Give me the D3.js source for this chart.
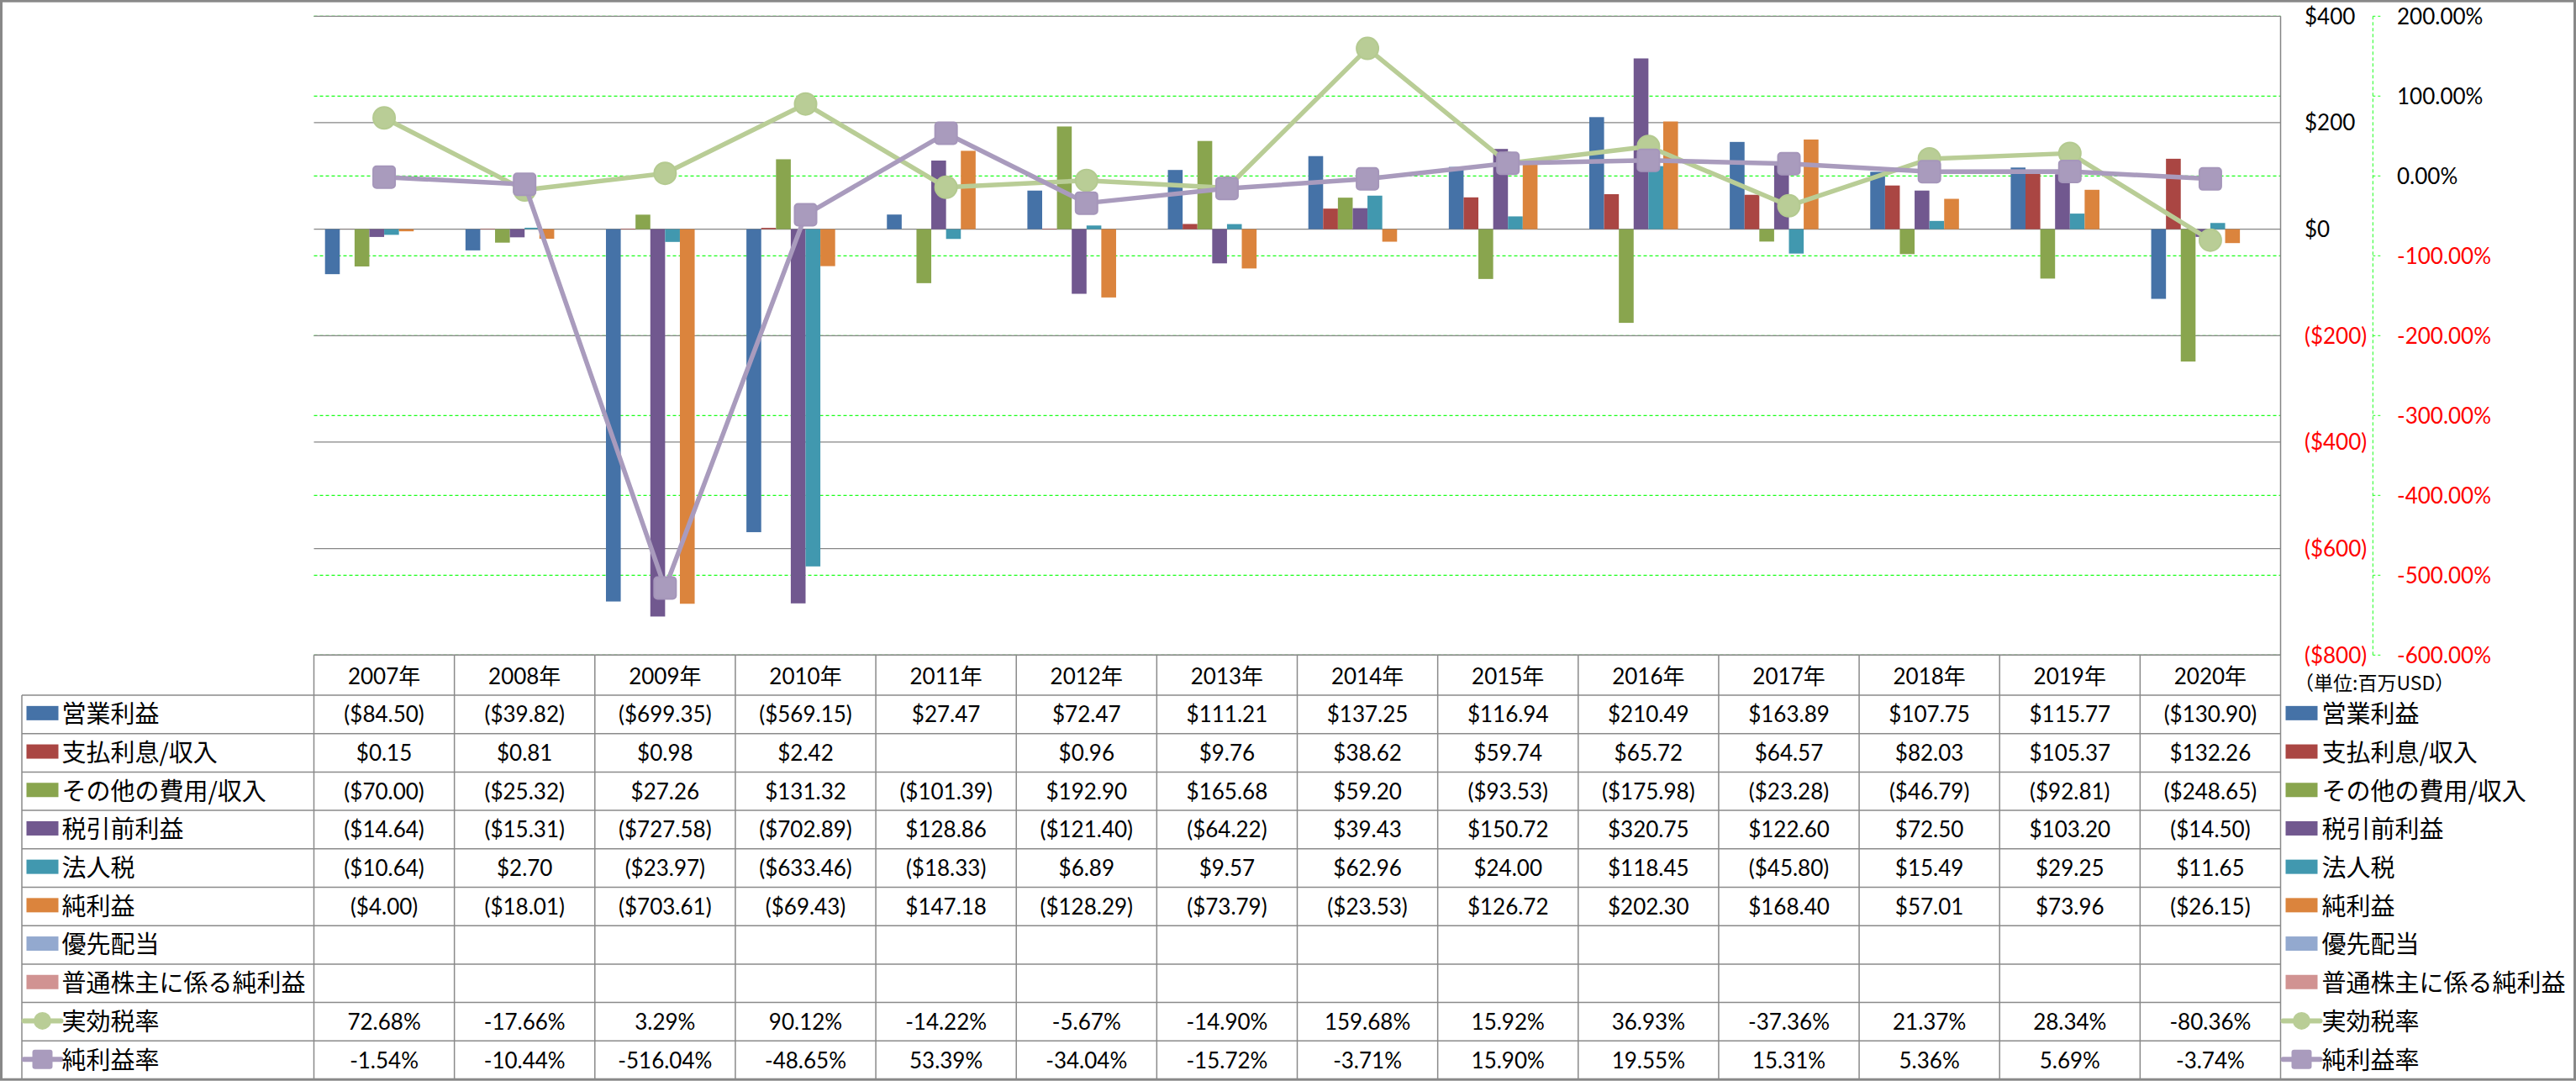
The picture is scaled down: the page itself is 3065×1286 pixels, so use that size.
<!DOCTYPE html>
<html><head><meta charset="utf-8">
<script src="https://cdn.jsdelivr.net/npm/d3@7"></script>
<style>
html,body{margin:0;padding:0;background:#fff;}
svg{display:block;}
</style></head>
<body>
<svg id="chart" width="3065" height="1286"></svg>
<script>
// ---------- data ----------
const years = ["2007年","2008年","2009年","2010年","2011年","2012年","2013年","2014年","2015年","2016年","2017年","2018年","2019年","2020年"];
const barNames = ["営業利益","支払利息/収入","その他の費用/収入","税引前利益","法人税","純利益","優先配当","普通株主に係る純利益"];
const lineNames = ["実効税率","純利益率"];
const opIncome   = [-84.50,-39.82,-699.35,-569.15,27.47,72.47,111.21,137.25,116.94,210.49,163.89,107.75,115.77,-130.90];
const interest   = [0.15,0.81,0.98,2.42,null,0.96,9.76,38.62,59.74,65.72,64.57,82.03,105.37,132.26];
const otherExp   = [-70.00,-25.32,27.26,131.32,-101.39,192.90,165.68,59.20,-93.53,-175.98,-23.28,-46.79,-92.81,-248.65];
const preTax     = [-14.64,-15.31,-727.58,-702.89,128.86,-121.40,-64.22,39.43,150.72,320.75,122.60,72.50,103.20,-14.50];
const corpTax    = [-10.64,2.70,-23.97,-633.46,-18.33,6.89,9.57,62.96,24.00,118.45,-45.80,15.49,29.25,11.65];
const netIncome  = [-4.00,-18.01,-703.61,-69.43,147.18,-128.29,-73.79,-23.53,126.72,202.30,168.40,57.01,73.96,-26.15];
const prefDiv    = [null,null,null,null,null,null,null,null,null,null,null,null,null,null];
const netCommon  = [null,null,null,null,null,null,null,null,null,null,null,null,null,null];
const effTaxRate = [72.68,-17.66,3.29,90.12,-14.22,-5.67,-14.90,159.68,15.92,36.93,-37.36,21.37,28.34,-80.36];
const netMargin  = [-1.54,-10.44,-516.04,-48.65,53.39,-34.04,-15.72,-3.71,15.90,19.55,15.31,5.36,5.69,-3.74];
const usdTicks = [400,200,0,-200,-400,-600,-800];
const pctTicks = [200,100,0,-100,-200,-300,-400,-500,-600];
const unitLabel = "（単位:百万USD）";

const barSeries = [opIncome, interest, otherExp, preTax, corpTax, netIncome, prefDiv, netCommon];
const lineSeries = [effTaxRate, netMargin];
const barColors = ["#4572A7","#AA4643","#89A54E","#71588F","#4198AF","#DB843D","#93A9CF","#D19392"];
const lineColors = ["#B9CD96","#A99BBD"];

// ---------- layout ----------
const svg = d3.select("#chart");
const L = 373.5, R = 2713.5, T = 19.3, B = 779.3;
const tableTop = B, headerBottom = 827, rowH = 45.7;
const labelLeft = 26;
const gridGray = "#868686";
const lime = "#19ff19";
const numFont = "Lato, 'Noto Sans CJK JP', sans-serif";
const jpFont = "'Noto Sans CJK JP', sans-serif";

const x = d3.scaleBand().domain(years).range([L, R]).padding(0);
const xs = d3.scaleBand().domain(barNames).range([0, x.bandwidth()]).paddingInner(0).paddingOuter(0.75);
const yUsd = d3.scaleLinear().domain([-800, 400]).range([B, T]);
const yPct = d3.scaleLinear().domain([-600, 200]).range([B, T]);

const loc = d3.formatLocale({decimal: ".", thousands: ",", grouping: [3], currency: ["$", ""], minus: "-"});
const f2 = loc.format(",.2f");
const fmtUsd = v => v == null ? "" : (v < 0 ? "($" + f2(-v) + ")" : "$" + f2(v));
const fmtPct = v => v == null ? "" : loc.format(".2f")(v) + "%";
const fmtUsdTick = v => v < 0 ? "($" + (-v) + ")" : "$" + v;

// outer border
svg.append("rect").attr("x",1.5).attr("y",1.2).attr("width",3062).attr("height",1283)
  .attr("fill","none").attr("stroke","#888").attr("stroke-width",3);

// green dashed percent gridlines
svg.append("g").selectAll("line").data(pctTicks).join("line")
  .attr("x1", L).attr("x2", R).attr("y1", d => yPct(d)).attr("y2", d => yPct(d))
  .attr("stroke", lime).attr("stroke-width", 1.3).attr("stroke-dasharray", "4,3");

// gray usd gridlines
svg.append("g").selectAll("line").data(usdTicks).join("line")
  .attr("x1", L).attr("x2", R).attr("y1", d => yUsd(d)).attr("y2", d => yUsd(d))
  .attr("stroke", gridGray).attr("stroke-width", 1.3);
// right border of plot
svg.append("line").attr("x1", R).attr("x2", R).attr("y1", T).attr("y2", B)
  .attr("stroke", gridGray).attr("stroke-width", 1.5);

// bars
const barG = svg.append("g");
barSeries.forEach((vals, si) => {
  barG.append("g").selectAll("rect")
    .data(vals.map((v, i) => ({ v, year: years[i] })).filter(d => d.v != null && d.v !== 0))
    .join("rect")
    .attr("x", d => x(d.year) + xs(barNames[si]))
    .attr("width", xs.bandwidth())
    .attr("y", d => yUsd(Math.max(0, d.v)))
    .attr("height", d => Math.abs(yUsd(d.v) - yUsd(0)))
    .attr("fill", barColors[si]);
});

// lines
lineSeries.forEach((vals, li) => {
  const pts = vals.map((v, i) => [x(years[i]) + x.bandwidth() / 2, yPct(v)]);
  const g = svg.append("g");
  g.append("path").attr("d", d3.line()(pts)).attr("fill", "none")
    .attr("stroke", lineColors[li]).attr("stroke-width", 5.5).attr("stroke-linejoin", "round");
  if (li === 0) {
    g.selectAll("circle").data(pts).join("circle")
      .attr("cx", d => d[0]).attr("cy", d => d[1]).attr("r", 13)
      .attr("fill", lineColors[li]).attr("stroke", "#B4CA90").attr("stroke-width", 2);
  } else {
    g.selectAll("rect").data(pts).join("rect")
      .attr("x", d => d[0] - 13).attr("y", d => d[1] - 13).attr("width", 26).attr("height", 26)
      .attr("rx", 4).attr("fill", lineColors[li]).attr("stroke", "#A596BA").attr("stroke-width", 2);
  }
});

// right $ axis labels
svg.append("g").selectAll("text").data(usdTicks).join("text")
  .attr("x", 2742).attr("y", d => yUsd(d)).attr("dy", "0.36em")
  .attr("font-family", numFont).attr("font-size", 26)
  .attr("fill", d => d < 0 ? "#ff0000" : "#000").text(fmtUsdTick);

// right % axis (dashed green line + ticks)
const axX = 2823.3;
svg.append("line").attr("x1", axX).attr("x2", axX).attr("y1", T).attr("y2", B)
  .attr("stroke", lime).attr("stroke-width", 1).attr("stroke-dasharray", "4,3");
svg.append("g").selectAll("line").data(pctTicks).join("line")
  .attr("x1", axX).attr("x2", axX + 9).attr("y1", d => yPct(d)).attr("y2", d => yPct(d))
  .attr("stroke", lime).attr("stroke-width", 1).attr("stroke-dasharray", "3,3");
svg.append("g").selectAll("text").data(pctTicks).join("text")
  .attr("x", 2852).attr("y", d => yPct(d)).attr("dy", "0.36em")
  .attr("font-family", numFont).attr("font-size", 26)
  .attr("fill", d => d < 0 ? "#ff0000" : "#000").text(d => fmtPct(d));

// ---------- data table ----------
const tg = svg.append("g");
const nRows = barNames.length + lineNames.length;
const tableBottom = headerBottom + nRows * rowH;
const lineStyle = sel => sel.attr("stroke", "#8a8a8a").attr("stroke-width", 1.5);
tg.append("line").attr("x1", L).attr("x2", R).attr("y1", tableTop).attr("y2", tableTop).call(lineStyle);
d3.range(nRows + 1).forEach(i => {
  const yy = headerBottom + i * rowH;
  tg.append("line").attr("x1", labelLeft).attr("x2", R).attr("y1", yy).attr("y2", yy).call(lineStyle);
});
years.forEach((yv) => {
  tg.append("line").attr("x1", x(yv)).attr("x2", x(yv)).attr("y1", tableTop).attr("y2", tableBottom).call(lineStyle);
});
tg.append("line").attr("x1", R).attr("x2", R).attr("y1", tableTop).attr("y2", tableBottom).call(lineStyle);
tg.append("line").attr("x1", labelLeft).attr("x2", labelLeft).attr("y1", headerBottom).attr("y2", tableBottom).call(lineStyle);

// header
tg.append("g").selectAll("text").data(years).join("text")
  .attr("x", d => x(d) + x.bandwidth() / 2).attr("y", (tableTop + headerBottom) / 2 + 1).attr("dy", "0.36em")
  .attr("text-anchor", "middle").attr("font-family", numFont).attr("font-size", 26).text(d => d);

// cells
const allRows = barSeries.map(v => v.map(fmtUsd)).concat(lineSeries.map(v => v.map(fmtPct)));
allRows.forEach((row, ri) => {
  const cy = headerBottom + ri * rowH + rowH / 2;
  tg.append("g").selectAll("text").data(row).join("text")
    .attr("x", (d, i) => x(years[i]) + x.bandwidth() / 2).attr("y", cy).attr("dy", "0.36em")
    .attr("text-anchor", "middle").attr("font-family", numFont).attr("font-size", 26).text(d => d);
});

// legend keys (left in table, and right of table)
const allNames = barNames.concat(lineNames);
function drawKey(g, x0, textX, ri) {
  const cy = headerBottom + ri * rowH + rowH / 2;
  if (ri < barNames.length) {
    g.append("rect").attr("x", x0 + 4).attr("y", cy - 10).attr("width", 38).attr("height", 17)
      .attr("fill", barColors[ri]);
  } else {
    const li = ri - barNames.length;
    g.append("line").attr("x1", x0 + 1).attr("x2", x0 + 45).attr("y1", cy - 1).attr("y2", cy - 1)
      .attr("stroke", lineColors[li]).attr("stroke-width", 6).attr("stroke-linecap", "round");
    if (li === 0) {
      g.append("circle").attr("cx", x0 + 23).attr("cy", cy - 1).attr("r", 10.5).attr("fill", lineColors[li]);
    } else {
      g.append("rect").attr("x", x0 + 11).attr("y", cy - 12.5).attr("width", 24).attr("height", 23)
        .attr("rx", 3).attr("fill", lineColors[li]);
    }
  }
  g.append("text").attr("x", textX).attr("y", cy).attr("dy", "0.36em")
    .attr("font-family", jpFont).attr("font-size", 29).text(allNames[ri]);
}
const lg = svg.append("g"), rg = svg.append("g");
allNames.forEach((n, ri) => {
  drawKey(lg, 27.5, 73.5, ri);
  drawKey(rg, 2715.5, 2762.5, ri);
});

// unit label
svg.append("text").attr("x", 2730).attr("y", 813).attr("dy", "0.36em")
  .attr("font-family", jpFont).attr("font-size", 23).text(unitLabel);
</script>
</body></html>
